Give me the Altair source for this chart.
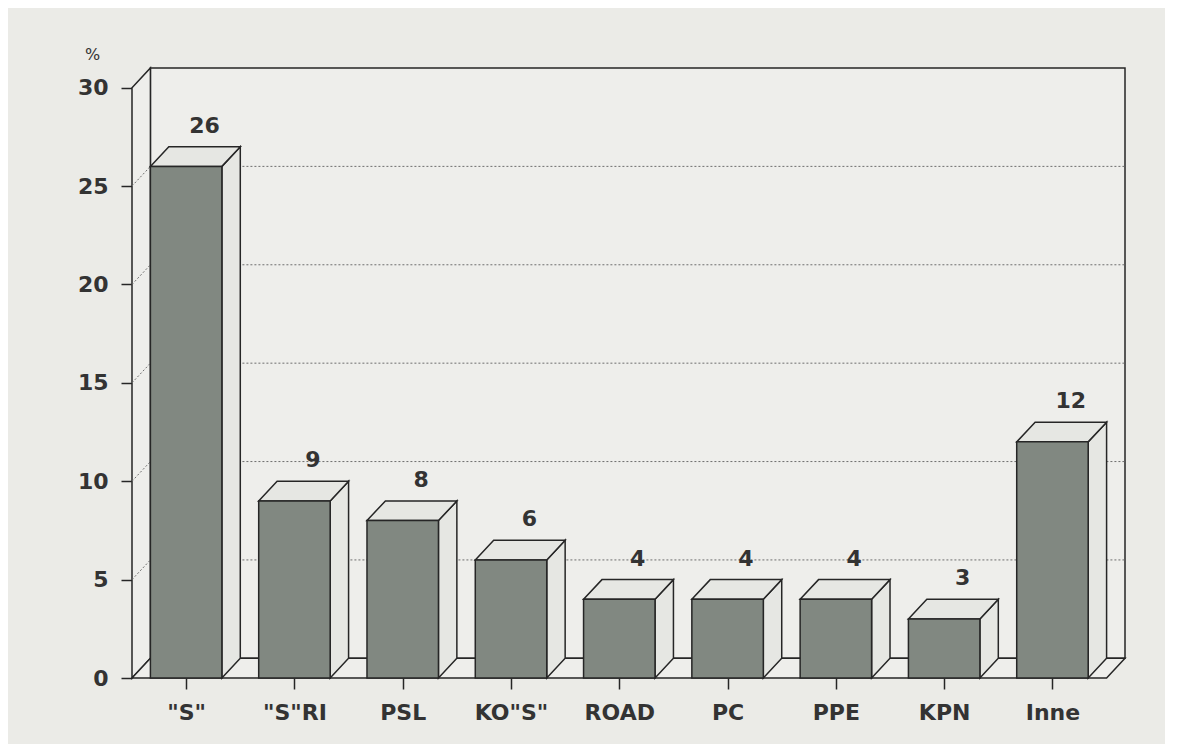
import json
import altair as alt
import pandas as pd

# ---- data ----
categories = ['"S"', '"S"RI', 'PSL', 'KO"S"', 'ROAD', 'PC', 'PPE', 'KPN', 'Inne']
values = [26, 9, 8, 6, 4, 4, 4, 3, 12]
y_ticks = [0, 5, 10, 15, 20, 25, 30]
grid_levels = [5, 10, 15, 20, 25]

# ---- 3-D look (style constants, in data units) ----
DX = 0.17   # depth along x
DY = 1.0    # depth along y
PAD = 0.17  # gap each side of a bar inside its slot
N = len(categories)
YMAX = 30

INK = "#262626"
BG = "#ebebe7"
WALL = "#eeeeeb"
FACE = "#e6e7e3"
BAR = "#818881"
FONT = "DejaVu Sans"
TXT = "#333333"

xs = alt.Scale(domain=[0, N + DX], nice=False, zero=False)
ys = alt.Scale(domain=[0, YMAX + DY], nice=False, zero=False)

label_expr = json.dumps(categories) + "[floor(datum.value)]"

X_AX = alt.Axis(
    values=[i + 0.5 for i in range(N)], labelExpr=label_expr, title=None,
    domain=False, grid=False, ticks=True, tickSize=11, tickColor=INK, tickWidth=1.5,
    labelFont=FONT, labelFontSize=22, labelFontWeight="bold", labelColor=TXT,
    labelPadding=13, labelFlush=False)
Y_AX = alt.Axis(
    values=y_ticks, title="%", titleAngle=0, titleX=-40, titleY=-14,
    titleAlign="center", titleBaseline="middle", titleFont=FONT,
    titleFontSize=16, titleFontWeight="normal", titleColor=TXT,
    domain=False, grid=False, tickSize=11, tickColor=INK, tickWidth=1.5,
    labelFont=FONT, labelFontSize=22, labelFontWeight="bold", labelColor=TXT,
    labelPadding=13)


def X(f):
    return alt.X(f, scale=xs, axis=X_AX)


def Y(f):
    return alt.Y(f, scale=ys, axis=Y_AX)


# walls
left_wall = pd.DataFrame({"x": [0, DX], "y": [0, DY], "y2": [YMAX, YMAX + DY]})
floor = pd.DataFrame({"y": [0, DY], "x": [0, DX], "x2": [N, N + DX]})
back = pd.DataFrame({"x": [DX], "x2": [N + DX], "y": [DY], "y2": [YMAX + DY]})

grid = pd.DataFrame({"k": grid_levels})
grid["gy"] = grid["k"] + DY
grid["bx"] = DX
grid["bx2"] = N + DX
grid["dx0"] = 0.0
grid["dx1"] = DX

# bars
bars = pd.DataFrame({"cat": categories, "val": values, "i": range(N)})
bars["x0"] = bars["i"] + PAD
bars["x1"] = bars["i"] + 1 - PAD
bars["lx"] = bars["i"] + 0.5 + DX
bars["ly"] = bars["val"] + DY
bars["zero"] = 0

side_rows, top_rows = [], []
for i, v in enumerate(values):
    x0, x1 = i + PAD, i + 1 - PAD
    side_rows += [{"g": i, "x": x1, "y": 0, "y2": v},
                  {"g": i, "x": x1 + DX, "y": DY, "y2": v + DY}]
    top_rows += [{"g": i, "y": v, "x": x0, "x2": x1},
                 {"g": i, "y": v + DY, "x": x0 + DX, "x2": x1 + DX}]
side = pd.DataFrame(side_rows)
top = pd.DataFrame(top_rows)

base_back = alt.Chart(back).mark_rect(fill=WALL, stroke=INK, strokeWidth=1.5).encode(
    x=X("x:Q"), x2="x2:Q", y=Y("y:Q"), y2="y2:Q")

wall_left = alt.Chart(left_wall).mark_area(fill=WALL, stroke=INK, strokeWidth=1.5).encode(
    x=X("x:Q"), y=Y("y:Q"), y2="y2:Q")

wall_floor = alt.Chart(floor).mark_area(orient="horizontal", fill=WALL, stroke=INK, strokeWidth=1.5).encode(
    y=Y("y:Q"), x=X("x:Q"), x2="x2:Q")

grid_back = alt.Chart(grid).mark_rule(color="#6e6e6e", strokeDash=[2, 2], strokeWidth=1).encode(
    x=X("bx:Q"), x2="bx2:Q", y=Y("gy:Q"))

grid_diag = alt.Chart(grid).mark_rule(color="#6e6e6e", strokeDash=[2, 2], strokeWidth=1).encode(
    x=X("dx0:Q"), x2="dx1:Q", y=Y("k:Q"), y2="gy:Q")

side_faces = alt.Chart(side).mark_area(fill=FACE, stroke=INK, strokeWidth=1.5).encode(
    x=X("x:Q"), y=Y("y:Q"), y2="y2:Q", detail="g:N")

top_faces = alt.Chart(top).mark_area(orient="horizontal", fill=FACE, stroke=INK, strokeWidth=1.5).encode(
    y=Y("y:Q"), x=X("x:Q"), x2="x2:Q", detail="g:N")

fronts = alt.Chart(bars).mark_rect(fill=BAR, stroke=INK, strokeWidth=1.5).encode(
    x=X("x0:Q"), x2="x1:Q", y=Y("val:Q"), y2="zero:Q")

value_labels = alt.Chart(bars).mark_text(
    font=FONT, fontSize=22, fontWeight="bold", color=TXT,
    baseline="middle", align="center", dy=-21).encode(
    x=X("lx:Q"), y=Y("ly:Q"), text="val:Q")

chart = alt.layer(
    base_back, wall_left, wall_floor, grid_back, grid_diag,
    side_faces, top_faces, fronts, value_labels
).properties(
    width=993, height=610,
    autosize=alt.AutoSizeParams(type="none"),
    padding={"left": 124, "top": 60, "right": 40, "bottom": 66},
    background=BG,
).configure_view(stroke=None)

chart.save("out.html", embed_options={"renderer": "svg", "actions": False})
